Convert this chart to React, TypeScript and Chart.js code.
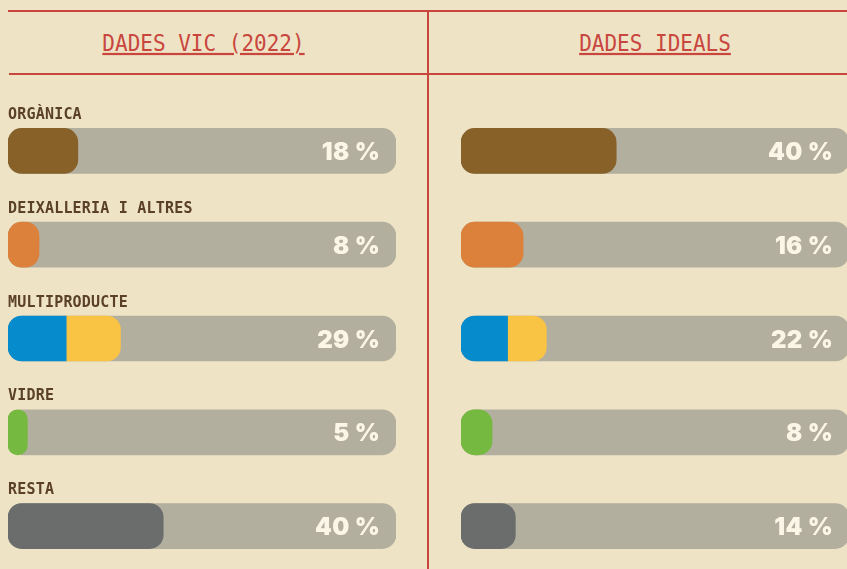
import React, { useEffect, useRef } from 'react';
import { Chart, registerables } from 'chart.js';

Chart.register(...registerables);

// ---- data ----
const categories = ['ORGÀNICA', 'DEIXALLERIA I ALTRES', 'MULTIPRODUCTE', 'VIDRE', 'RESTA'];
const panelTitles = ['DADES VIC (2022)', 'DADES IDEALS'];
const vicValues = [18, 8, 29, 5, 40];
const idealValues = [40, 16, 22, 8, 14];
// multiproducte is split in two coloured parts (blue + yellow)
const vicMultiSplit = [15, 14];
const idealMultiSplit = [12, 10];
const scaleMax = 100;

// ---- style ----
const BG = '#EFE3C5';
const RED = '#C8463E';
const TRACK = '#B3AF9F';
const LABEL = '#5A4026';
const VALUE_TEXT = '#FBF6E7';
const fillColors = ['#876128', '#DB813B', '#068BCC', '#75B940', '#6A6D6C'];
const SECOND_COLOR = '#F9C344';
const R = 14;

const labelPlugin = {
  id: 'barLabels',
  afterDatasetsDraw(chart: any, _args: any, opts: any) {
    const ctx = chart.ctx;
    const yScale = chart.scales.y;
    const area = chart.chartArea;
    ctx.save();
    (opts.values as number[]).forEach((v, i) => {
      const cy = yScale.getPixelForValue(i);
      ctx.fillStyle = VALUE_TEXT;
      ctx.font = '900 24px Inter';
      ctx.textAlign = 'right';
      ctx.textBaseline = 'alphabetic';
      try { (ctx as any).letterSpacing = '0.3px'; } catch (e) {}
      ctx.fillText(`${v} %`, area.right - 16, cy + 9);
      if (opts.showCategories) {
        ctx.fillStyle = LABEL;
        ctx.font = 'bold 15px "DejaVu Sans Mono"';
        ctx.textAlign = 'left';
        try { (ctx as any).letterSpacing = '0.2px'; } catch (e) {}
        ctx.fillText(categories[i], area.left, cy - 32);
      }
    });
    ctx.restore();
  },
};

function buildConfig(values: number[], split: number[], showCategories: boolean): any {
  const first = values.map((v, i) => (i === 2 ? split[0] : v));
  const second = values.map((_v, i) => (i === 2 ? split[1] : null));
  const track = values.map(() => scaleMax);
  const full = { topLeft: R, topRight: R, bottomLeft: R, bottomRight: R };
  return {
    type: 'bar',
    data: {
      labels: categories,
      datasets: [
        {
          label: 'track',
          data: track,
          backgroundColor: TRACK,
          stack: 'track',
          order: 2,
          grouped: false,
          barThickness: 45,
          borderSkipped: false,
          borderRadius: full,
        },
        {
          label: 'fill',
          data: first,
          backgroundColor: fillColors,
          stack: 'fill',
          order: 0,
          grouped: false,
          barThickness: 45,
          borderSkipped: false,
          borderRadius: (c: any) =>
            c.dataIndex === 2 ? { topLeft: R, bottomLeft: R, topRight: 0, bottomRight: 0 } : full,
        },
        {
          label: 'fill2',
          data: second,
          backgroundColor: SECOND_COLOR,
          stack: 'fill',
          order: 1,
          grouped: false,
          barThickness: 45,
          borderSkipped: false,
          borderRadius: { topLeft: 0, bottomLeft: 0, topRight: R, bottomRight: R },
        },
      ],
    },
    options: {
      indexAxis: 'y',
      animation: false,
      responsive: false,
      devicePixelRatio: 1,
      layout: { padding: 0 },
      scales: {
        x: { min: 0, max: scaleMax, stacked: true, display: false },
        y: { stacked: true, display: false },
      },
      plugins: {
        legend: { display: false },
        tooltip: { enabled: false },
        barLabels: { values, showCategories },
      },
    },
    plugins: [labelPlugin],
  };
}

function BarPanel({ values, split, showCategories, left }: any) {
  const ref = useRef<HTMLCanvasElement>(null);
  useEffect(() => {
    const chart = new Chart(ref.current as HTMLCanvasElement, buildConfig(values, split, showCategories));
    return () => chart.destroy();
  }, []);
  return (
    <canvas
      ref={ref}
      width={388}
      height={469}
      style={{ position: 'absolute', left, top: 104, width: 388, height: 469 }}
    />
  );
}

const titleStyle: React.CSSProperties = {
  position: 'absolute',
  top: 31,
  height: 24,
  lineHeight: '24px',
  textAlign: 'center',
  fontFamily: '"DejaVu Sans Mono", monospace',
  fontSize: 21,
  color: RED,
  textDecoration: 'underline',
  textDecorationThickness: '1.5px',
  textUnderlineOffset: '2px',
  transform: 'scaleY(1.1)',
  whiteSpace: 'nowrap',
};

export default function App() {
  useEffect(() => {
    document.body.style.margin = '0';
    document.body.style.background = BG;
  }, []);
  return (
    <div
      style={{
        position: 'absolute',
        left: 0,
        top: 0,
        width: 847,
        height: 569,
        background: BG,
        overflow: 'hidden',
      }}
    >
      <div style={{ position: 'absolute', left: 8, top: 10, width: 839, height: 2, background: RED }} />
      <div style={{ position: 'absolute', left: 9, top: 73, width: 838, height: 2, background: RED }} />
      <div style={{ position: 'absolute', left: 427, top: 10, width: 2, height: 559, background: RED }} />
      <div style={{ ...titleStyle, left: 8, width: 391 }}>{panelTitles[0]}</div>
      <div style={{ ...titleStyle, left: 455, width: 400 }}>{panelTitles[1]}</div>
      <BarPanel values={vicValues} split={vicMultiSplit} showCategories={true} left={8} />
      <BarPanel values={idealValues} split={idealMultiSplit} showCategories={false} left={461} />
    </div>
  );
}
